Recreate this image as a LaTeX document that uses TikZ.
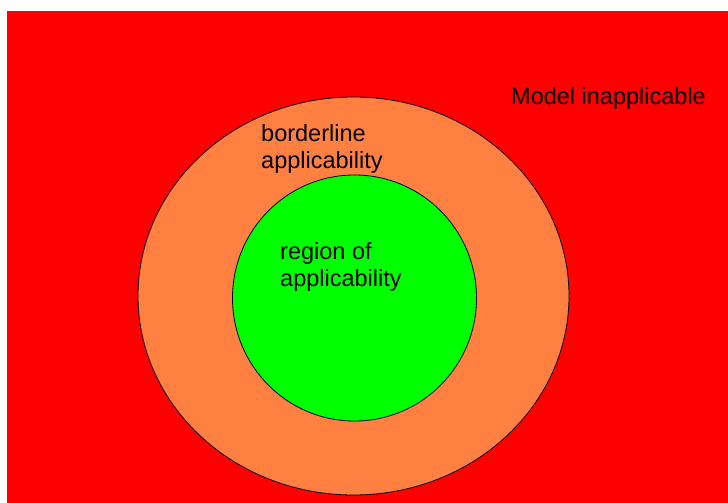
\documentclass[tikz,border=0pt]{standalone}
\usepackage{fontspec}
\setmainfont{Liberation Sans}
\definecolor{bgred}{RGB}{255,0,0}
\definecolor{midorange}{RGB}{255,128,64}
\definecolor{ingreen}{RGB}{0,255,0}
\begin{document}
\begin{tikzpicture}[x=1pt,y=-1pt,
  zone/.style={draw=black,line width=0.8pt},
  lbl/.style={font=\fontsize{23.5}{27}\selectfont,align=left,inner sep=0pt,anchor=base west,text=black}]
\useasboundingbox (0,0) rectangle (728,503);
\fill[white] (0,0) rectangle (728,503);
\fill[bgred] (7,11) rectangle (728,503);
\path[zone,fill=midorange] (353.5,296) ellipse [x radius=215.5,y radius=199];
\path[zone,fill=ingreen] (354.5,298) ellipse [x radius=122,y radius=123];
\node[lbl] (outer) at (511,104) {Model inapplicable};
\node[lbl] (border) at (261,168) {borderline\\applicability};
\node[lbl] (region) at (280,286) {region of\\applicability};
\end{tikzpicture}
\end{document}
